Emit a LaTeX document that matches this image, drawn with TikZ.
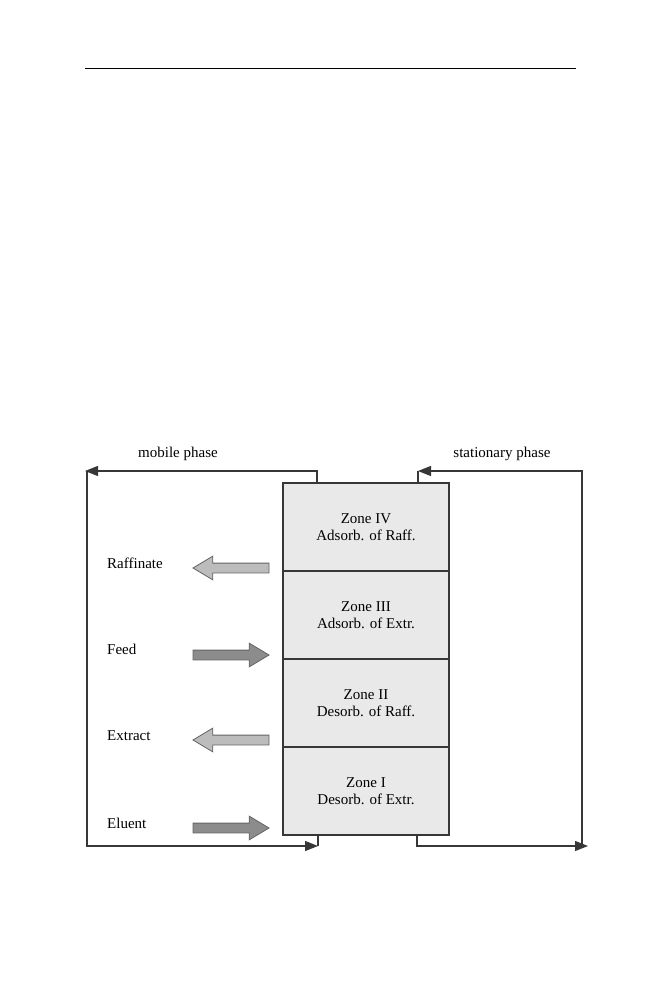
\documentclass[tikz,border=0pt]{standalone}
\usepackage{fontspec}
\setmainfont{Liberation Serif}
\usepackage{tikz}
\usetikzlibrary{arrows.meta}
\usetikzlibrary{positioning,shapes.arrows}
\definecolor{zonegray}{RGB}{233,233,233}
\definecolor{linegray}{RGB}{55,55,55}
\definecolor{outgray}{RGB}{188,188,188}
\definecolor{ingray}{RGB}{140,140,140}
\definecolor{rimgray}{RGB}{100,100,100}

\tikzset{
  zone/.style={draw=linegray, line width=1.3pt, fill=zonegray, minimum width=166pt,
    minimum height=88pt, inner sep=0pt, outer sep=0pt, align=center,
    font=\fontsize{15}{17}\selectfont},
  txt/.style={inner sep=0pt, font=\fontsize{15}{17}\selectfont},
  blockarrow/.style={single arrow, draw=rimgray, line width=0.8pt, minimum height=76pt,
    minimum width=23pt, single arrow head extend=7pt, single arrow tip angle=62,
    inner xsep=0pt, inner ysep=4.5pt, outer sep=0pt},
  outflow/.style={blockarrow, fill=outgray, shape border rotate=180, anchor=tail},
  inflow/.style={blockarrow, fill=ingray, anchor=tip},
  phase/.style={draw=linegray, line width=1.3pt},
}

\begin{document}
\begin{tikzpicture}[x=1pt, y=-1pt, >={Triangle[length=13pt,width=10pt]}]
        \useasboundingbox (0,0) rectangle (659,999);

        \path
        (85,68)   coordinate (ruleL)
        (576,68)  coordinate (ruleR)
        (317,471) coordinate (m1)
        (85,471)  coordinate (m2)
        (87,471)  coordinate (m3)
        (87,846)  coordinate (m4)
        (318,846) coordinate (m5)
        (582,846) coordinate (s1)
        (582,471) coordinate (s2)
        (418,471) coordinate (s3)
        (417,846) coordinate (s4)
        (588,846) coordinate (s5)
        ;

        \draw[line width=1pt] (ruleL) -- (ruleR);

        % column of zones
        \node[zone] (z4) at (366,527) {Zone IV\\Adsorb. of Raff.};
        \node[zone, below=0pt of z4] (z3) {Zone III\\Adsorb. of Extr.};
        \node[zone, below=0pt of z3] (z2) {Zone II\\Desorb. of Raff.};
        \node[zone, below=0pt of z2] (z1) {Zone I\\Desorb. of Extr.};

        \draw
        (178,454) node[txt] (mob) {mobile phase}
        (502,454) node[txt] (sta) {stationary phase}
        (107,563) node[txt, anchor=west] (raffLbl) {Raffinate}
        (107,649) node[txt, anchor=west] (feedLbl) {Feed}
        (107,736) node[txt, anchor=west] (extrLbl) {Extract}
        (107,823) node[txt, anchor=west] (elueLbl) {Eluent}
        ;

        \node[outflow] (raffArr) at (269,568) {};
        \node[inflow]  (feedArr) at (269,655) {};
        \node[outflow] (extrArr) at (269,740) {};
        \node[inflow]  (elueArr) at (269,828) {};

        % mobile phase loop
        \draw[phase,->] (z4.north -| m1) -- (m1) -- (m2);
        \draw[phase,->] (m3) -- (m4) -- (m5);
        \draw[phase] (m5) -- (z1.south -| m5);

        % stationary phase loop
        \draw[phase,->] (s1) -- (s2) -- (s3);
        \draw[phase] (s3) -- (z4.north -| s3);
        \draw[phase,->] (z1.south -| s4) -- (s4) -- (s5);
\end{tikzpicture}
\end{document}
